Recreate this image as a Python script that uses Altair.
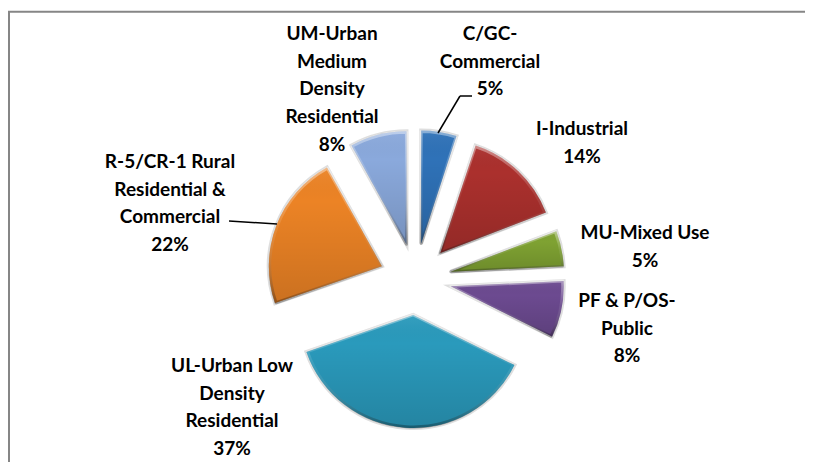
import math
import altair as alt
import pandas as pd

CATEGORIES = ["C/GC-Commercial", "I-Industrial", "MU-Mixed Use", "PF & P/OS-Public",
              "UL-Urban Low Density Residential", "R-5/CR-1 Rural Residential & Commercial",
              "UM-Urban Medium Density Residential"]
SHARES = [5, 14, 5, 8, 37, 22, 8]
COLORS = ["#2f72b8", "#ab302d", "#7fa232", "#6c4a90", "#2a9abc", "#ec8325", "#8aa9dc"]
LABEL_LINES = [["C/GC-", "Commercial", "5%"], ["I-Industrial", "14%"], ["MU-Mixed Use", "5%"],
               ["PF & P/OS-", "Public", "8%"], ["UL-Urban Low", "Density", "Residential", "37%"],
               ["R-5/CR-1 Rural", "Residential &", "Commercial", "22%"],
               ["UM-Urban", "Medium", "Density", "Residential", "8%"]]

W, H = 797, 454
CX, CY, EXPLODE, R = 407.5, 271, 36, 113

total = sum(SHARES)
rows, cum = [], 0
for c, s, col in zip(CATEGORIES, SHARES, COLORS):
    a0, a1 = cum / total * 2 * math.pi, (cum + s) / total * 2 * math.pi
    mid = (a0 + a1) / 2
    rows.append(dict(cat=c, share=s, color=col, a0=a0, a1=a1,
                     ox=math.sin(mid), oy=-math.cos(mid)))
    cum += s
df = pd.DataFrame(rows)

base = alt.Chart(df)
xs = alt.X("ox:Q", axis=None, scale=alt.Scale(domain=[-CX / EXPLODE, (W - CX) / EXPLODE], range=[0, W]))
ys = alt.Y("oy:Q", axis=None, scale=alt.Scale(domain=[-CY / EXPLODE, (H - CY) / EXPLODE], range=[0, H]))
enc = dict(x=xs, y=ys,
           theta=alt.Theta("a0:Q", scale=None),
           theta2=alt.Theta2("a1:Q"))

shadow = base.mark_arc(radius=R, fill="#000000", fillOpacity=0.2, stroke="#000000",
                       strokeOpacity=0.13, strokeWidth=4, dx=1, dy=2).encode(**enc)
body = base.mark_arc(radius=R).encode(**enc, fill=alt.Color("color:N", scale=None))
shade = base.mark_arc(
    radius=R,
    fill=alt.Gradient(gradient="linear", x1=0, y1=0, x2=0, y2=1,
                      stops=[alt.GradientStop(color="rgba(255,255,255,0.06)", offset=0),
                             alt.GradientStop(color="rgba(0,0,0,0)", offset=0.25),
                             alt.GradientStop(color="rgba(0,0,0,0.14)", offset=1)])).encode(**enc)
bevel = base.mark_arc(
    radius=R - 1,
    fillOpacity=0,
    stroke=alt.Gradient(gradient="linear", x1=0, y1=0, x2=0, y2=1,
                        stops=[alt.GradientStop(color="rgba(255,255,255,0.4)", offset=0),
                               alt.GradientStop(color="rgba(255,255,255,0.08)", offset=0.45),
                               alt.GradientStop(color="rgba(0,0,0,0.3)", offset=1)]),
    strokeWidth=3, strokeJoin="round").encode(**enc)

FONT = "Lato"
# centre x and first-line centre y of each label, in page pixels
LABEL_POS = [(490, 31), (582, 126), (645, 230), (627, 298), (232, 363), (170, 159), (332, 31)]
LINE_H = 27.7
layers = [shadow, body, shade, bevel]

one = pd.DataFrame({"a": [0]})
frame_left = alt.Chart(one).mark_rule(color="#868686", strokeWidth=2).encode(
    x=alt.value(1), y=alt.value(3), y2=alt.value(H))
frame_top = alt.Chart(one).mark_rule(color="#868686", strokeWidth=2).encode(
    x=alt.value(0), x2=alt.value(W), y=alt.value(3.8))

for lines, (lx, ly) in zip(LABEL_LINES, LABEL_POS):
    d = pd.DataFrame({"t": ["\n".join(lines)]})
    layers.append(alt.Chart(d).mark_text(font=FONT, fontWeight="bold", fontSize=19, color="#000000",
                                         lineBreak="\n", lineHeight=LINE_H, align="center", baseline="top").encode(
        text="t:N", x=alt.value(lx - 8), y=alt.value(ly - 8 - 6)))

LEADERS = [(472, 96, 460, 96), (460, 96, 438, 133), (229, 221, 277, 224)]
for x1, y1, x2, y2 in LEADERS:
    layers.append(alt.Chart(one).mark_rule(color="#000000", strokeWidth=1.5).encode(
        x=alt.value(x1 - 8), y=alt.value(y1 - 8), x2=alt.value(x2 - 8), y2=alt.value(y2 - 8)))

chart = alt.layer(frame_left, frame_top, *layers).properties(
    width=W, height=H, padding=0, autosize=alt.AutoSizeParams(type="none")
).configure_view(stroke=None)

chart.save("out.html", embed_options={"renderer": "svg", "actions": False})
